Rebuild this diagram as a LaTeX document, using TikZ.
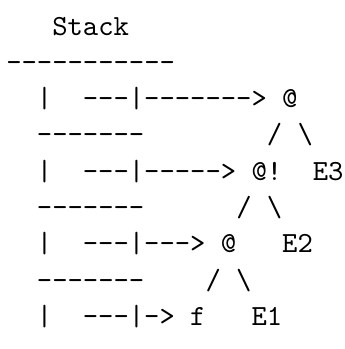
\documentclass[tikz,border=0pt]{standalone}
\usepackage{tikz}

\begin{document}
\begin{tikzpicture}[
    x=1pt, y=1pt,
    ascii/.style={anchor=base west, inner sep=0pt, font=\ttfamily}
  ]
    \useasboundingbox (0,0) rectangle (117.8,-119.5);

    \foreach \txt [count=\i] in {%
      ~~~Stack,
      -----------,
      ~~|~~---|------->~@,
      ~~-------~~~~~~~~/~\textbackslash,
      ~~|~~---|----->~@!~~E3,
      ~~-------~~~~~~/~\textbackslash,
      ~~|~~---|--->~@~~~E2,
      ~~-------~~~~/~\textbackslash,
      ~~|~~---|->~f~~~E1%
    } {\node[ascii] (line\i) at (1.95,{-12-(\i-1)*12.43}) {\txt};};
\end{tikzpicture}
\end{document}
